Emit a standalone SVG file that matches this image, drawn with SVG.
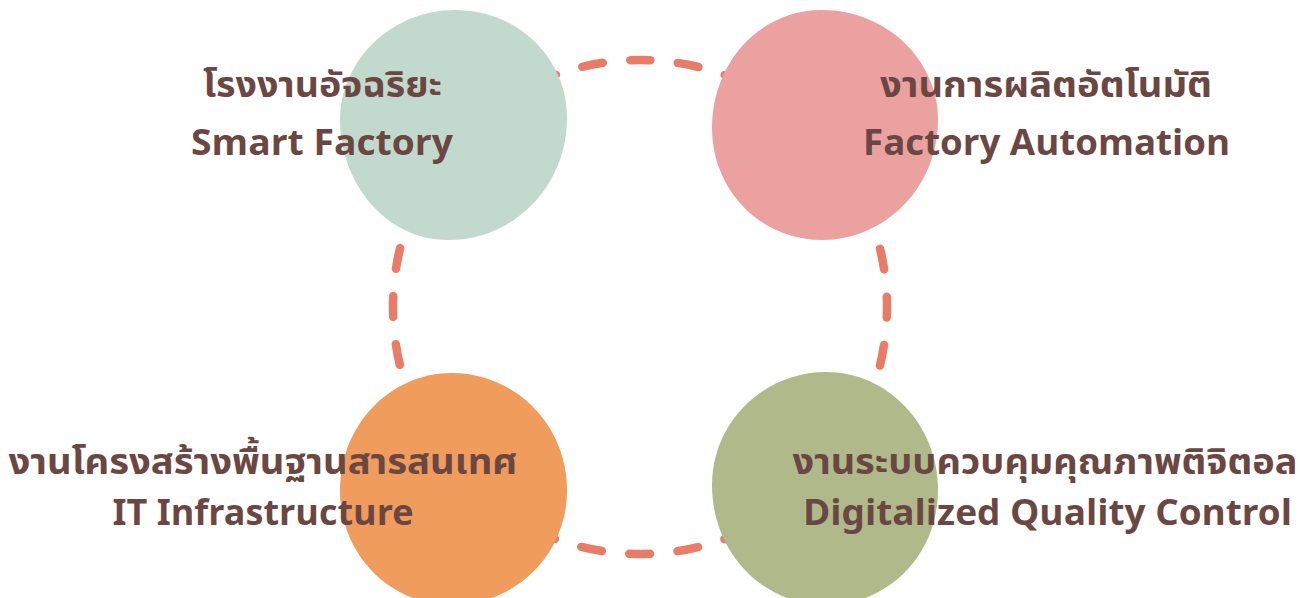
<svg xmlns="http://www.w3.org/2000/svg" width="1311" height="598" viewBox="0 0 1311 598">
<style>
.lbl{font-family:"Noto Sans Thai","Noto Sans","Liberation Sans",sans-serif;font-weight:700;font-size:36px;fill:#6b4744;text-anchor:middle}
.loop{fill:none;stroke:#e87c68;stroke-width:8.5;stroke-linecap:round;stroke-dasharray:21 27.5;stroke-dashoffset:10.5}
</style>
<rect width="1311" height="598" fill="#ffffff"/>
<g id="connectors">
<path class="loop" d="M640,60 A247,247 0 1,1 640,554 A247,247 0 1,1 640,60 Z"/>
</g>
<g id="smart-factory">
<path fill="#c2d9ce" d="M455,10 C518,10 567,58 567,118 C567,185 515,240 448,240 C385,240 340,182 340,120 C340,60 392,10 455,10 Z"/>
<text class="lbl" x="322.5" y="97" textLength="239" lengthAdjust="spacingAndGlyphs">โรงงานอัจฉริยะ</text>
<text class="lbl" x="322" y="155" textLength="262" lengthAdjust="spacingAndGlyphs">Smart Factory</text>
</g>
<g id="factory-automation">
<path fill="#eba1a0" d="M822,10 C886,10 938,60 938,120 C938,186 886,240 822,240 C760,240 712,190 712,128 C712,62 760,10 822,10 Z"/>
<text class="lbl" x="1046" y="97" textLength="332" lengthAdjust="spacingAndGlyphs">งานการผลิตอัตโนมัติ</text>
<text class="lbl" x="1046.5" y="155" textLength="367" lengthAdjust="spacingAndGlyphs">Factory Automation</text>
</g>
<g id="it-infrastructure">
<path fill="#ef9c5c" d="M452,373 C515,373 567,425 567,490 C567,555 515,605 452,605 C390,605 340,555 340,490 C340,425 390,373 452,373 Z"/>
<text class="lbl" x="263" y="474" textLength="509" lengthAdjust="spacingAndGlyphs">งานโครงสร้างพื้นฐานสารสนเทศ</text>
<text class="lbl" x="263" y="525" textLength="301" lengthAdjust="spacingAndGlyphs">IT Infrastructure</text>
</g>
<g id="digitalized-quality-control">
<path fill="#b0b98a" d="M826,372 C888,372 938,425 938,490 C938,555 888,605 826,605 C762,605 712,552 712,485 C712,422 764,372 826,372 Z"/>
<text class="lbl" x="1045" y="474" textLength="505" lengthAdjust="spacingAndGlyphs">งานระบบควบคุมคุณภาพติจิตอล</text>
<text class="lbl" x="1047.5" y="525" textLength="489" lengthAdjust="spacingAndGlyphs">Digitalized Quality Control</text>
</g>
</svg>
